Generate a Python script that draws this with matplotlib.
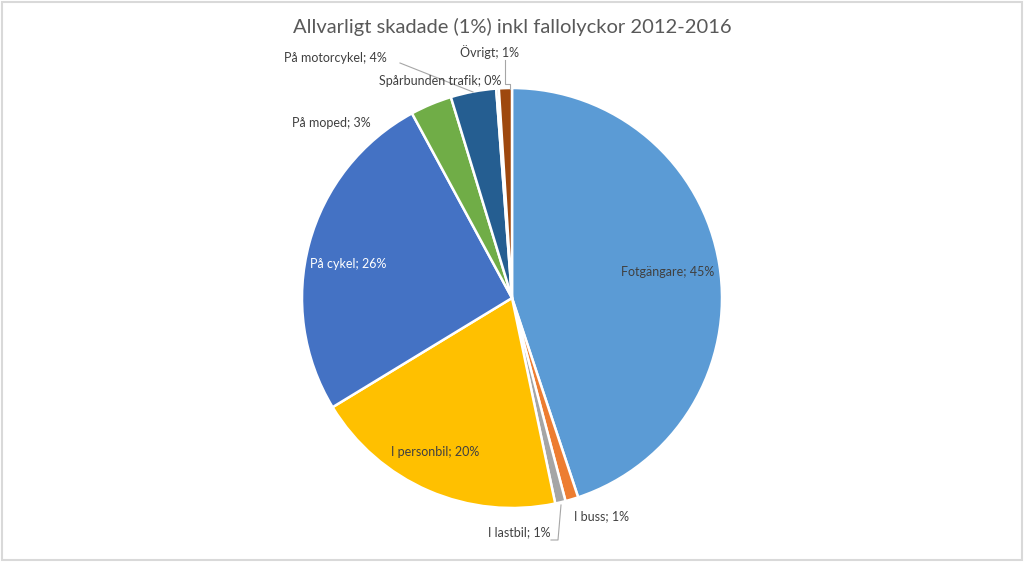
import matplotlib
matplotlib.use("Agg")
import matplotlib.pyplot as plt
from matplotlib.patches import Rectangle

categories = ["Fotgängare", "I buss", "I lastbil", "I personbil", "På cykel",
              "På moped", "På motorcykel", "Spårbunden trafik", "Övrigt"]
shares = [44.9, 1.0, 0.8, 19.6, 25.8, 3.2, 3.5, 0.2, 1.0]
pct_labels = [45, 1, 1, 20, 26, 3, 4, 0, 1]
colors = ["#5B9BD5", "#ED7D31", "#A5A5A5", "#FFC000", "#4472C4",
          "#70AD47", "#255E91", "#636363", "#9E480E"]

plt.rcParams['font.family'] = ['Lato', 'DejaVu Sans']

W, H = 1024, 562
cx, cy, R = 512, 298, 210

fig = plt.figure(figsize=(W / 100, H / 100), dpi=100)
ax = fig.add_axes([(cx - R) / W, (H - cy - R) / H, 2 * R / W, 2 * R / H])
ax.pie(shares, colors=colors, startangle=90, counterclock=False, radius=1,
       wedgeprops=dict(edgecolor="white", linewidth=1.8))
ax.set_xlim(-1, 1)
ax.set_ylim(-1, 1)
ax.set_aspect("equal")
ax.axis("off")


def px(x, y):
    return (x - cx) / R, (cy - y) / R


# label centres in pixels
label_pos = [(668, 272), (602, 516), (519, 532), (435, 452), (348, 264),
             (331, 123), (335, 58), (440, 81), (490, 52)]
label_col = ["#404040", "#404040", "#404040", "#404040", "white",
             "#404040", "#404040", "#404040", "#404040"]
for name, p, pos, c in zip(categories, pct_labels, label_pos, label_col):
    x, y = px(*pos)
    ax.text(x, y, f"{name}; {p}%", ha="center", va="center", fontsize=9,
            color=c, clip_on=False)

# leader lines
lines = [
    [(400, 63), (473, 92)],
    [(505, 60), (505, 84), (510, 84), (510, 89)],
    [(551, 540), (558, 540), (561, 505)],
]
for ln in lines:
    pts = [px(*q) for q in ln]
    ax.plot([q[0] for q in pts], [q[1] for q in pts], color="#A6A6A6",
            lw=0.8, clip_on=False)

fig.text(0.5, 1 - 27 / H, "Allvarligt skadade (1%) inkl fallolyckor 2012-2016",
         ha="center", va="center", fontsize=14.5, color="#595959")

fig.patches.append(Rectangle((2 / W, 2 / H), 1 - 4 / W, 1 - 4 / H,
                             transform=fig.transFigure, fill=False,
                             edgecolor="#D9D9D9", lw=1.5))

fig.savefig("out.png", dpi=100)
